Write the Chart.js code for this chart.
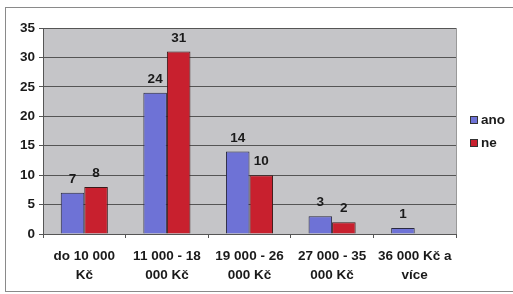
<!DOCTYPE html>
<html>
<head>
<meta charset="utf-8">
<script src="https://cdn.jsdelivr.net/npm/chart.js@4.4.0/dist/chart.umd.min.js"></script>
<style>
  body { margin: 0; background: #fff; }
  #frame { position: absolute; left: 5px; top: 7px; width: 512px; height: 283px; border: 1px solid #8a8a8a; border-right: none; }
  canvas { position: absolute; left: 0; top: 0; }
</style>
</head>
<body>
<div id="frame"></div>
<canvas id="incomeChart" width="513" height="294"></canvas>
<script>
const categories = [['do 10 000', 'Kč'], ['11 000 - 18', '000 Kč'], ['19 000 - 26', '000 Kč'], ['27 000 - 35', '000 Kč'], ['36 000 Kč a', 'více']];
const anoValues = [7, 24, 14, 3, 1];
const neValues = [8, 31, 10, 2, 0];
const yTicks = [0, 5, 10, 15, 20, 25, 30, 35];

const fontFamily = '"Liberation Sans", Arial, sans-serif';

const plotBackground = {
    id: 'plotBackground',
    beforeDraw(chart) {
        const { ctx, chartArea: a } = chart;
        ctx.save();
        ctx.fillStyle = '#c5c5c8';
        ctx.fillRect(a.left, a.top, a.right - a.left, a.bottom - a.top);
        ctx.strokeStyle = '#9a9a9a';
        ctx.lineWidth = 1;
        ctx.beginPath();
        ctx.moveTo(a.right + 0.5, a.top);
        ctx.lineTo(a.right + 0.5, a.bottom);
        ctx.stroke();
        ctx.restore();
    }
};

// value labels above each bar + legend on the right
const barLabels = {
    id: 'barLabels',
    afterDatasetsDraw(chart) {
        const { ctx, chartArea: a } = chart;
        ctx.save();
        ctx.font = 'bold 13.5px ' + fontFamily;
        ctx.fillStyle = '#1a1a1a';
        ctx.textAlign = 'center';
        ctx.textBaseline = 'bottom';
        chart.data.datasets.forEach((ds, i) => {
            chart.getDatasetMeta(i).data.forEach((bar, j) => {
                if (ds.data[j] > 0) ctx.fillText(ds.data[j], bar.x, bar.y - 7);
            });
        });
        // legend
        ctx.textAlign = 'left';
        ctx.textBaseline = 'middle';
        chart.data.datasets.forEach((ds, i) => {
            const x = a.right + 14;
            const y = 120 + i * 23;
            ctx.fillStyle = ds.backgroundColor;
            ctx.fillRect(x, y - 4, 8, 8);
            ctx.strokeStyle = '#333';
            ctx.lineWidth = 1;
            ctx.strokeRect(x + 0.5, y - 3.5, 7, 7);
            ctx.fillStyle = '#1a1a1a';
            ctx.fillText(ds.label, x + 11, y);
        });
        ctx.restore();
    }
};

const ctx = document.getElementById('incomeChart').getContext('2d');
const incomeChart = new Chart(ctx, {
    type: 'bar',
    data: {
        labels: categories,
        datasets: [
            {
                label: 'ano',
                data: anoValues,
                backgroundColor: '#6e72d6',
                borderColor: '#2a2a40',
                borderWidth: 1,
                categoryPercentage: 0.57,
                barPercentage: 1.0,
            },
            {
                label: 'ne',
                data: neValues,
                backgroundColor: '#c8202e',
                borderColor: '#3a1a1a',
                borderWidth: 1,
                categoryPercentage: 0.57,
                barPercentage: 1.0,
            }
        ]
    },
    options: {
        responsive: false,
        animation: false,
        layout: {
            padding: { left: 5, top: 28, right: 57, bottom: 8 }
        },
        scales: {
            y: {
                min: 0,
                max: 35,
                afterBuildTicks: (scale) => { scale.ticks = yTicks.map(v => ({ value: v })); },
                afterFit: (scale) => { scale.width = 38; },
                ticks: {
                    color: '#1a1a1a',
                    font: { family: fontFamily, size: 13.5, weight: 'bold' },
                    padding: 4,
                },
                grid: {
                    color: '#555',
                    tickLength: 4,
                    tickColor: '#555',
                },
                border: { color: '#555' }
            },
            x: {
                afterFit: (scale) => { scale.height = 52; },
                ticks: {
                    color: '#1a1a1a',
                    font: { family: fontFamily, size: 13.5, weight: 'bold', lineHeight: 1.4 },
                    padding: 9,
                    maxRotation: 0,
                },
                grid: {
                    offset: true,
                    drawOnChartArea: false,
                    tickLength: 4,
                    color: '#555',
                },
                border: { color: '#555' }
            }
        },
        plugins: {
            legend: { display: false },
            tooltip: { enabled: false }
        }
    },
    plugins: [plotBackground, barLabels]
});
</script>
</body>
</html>
